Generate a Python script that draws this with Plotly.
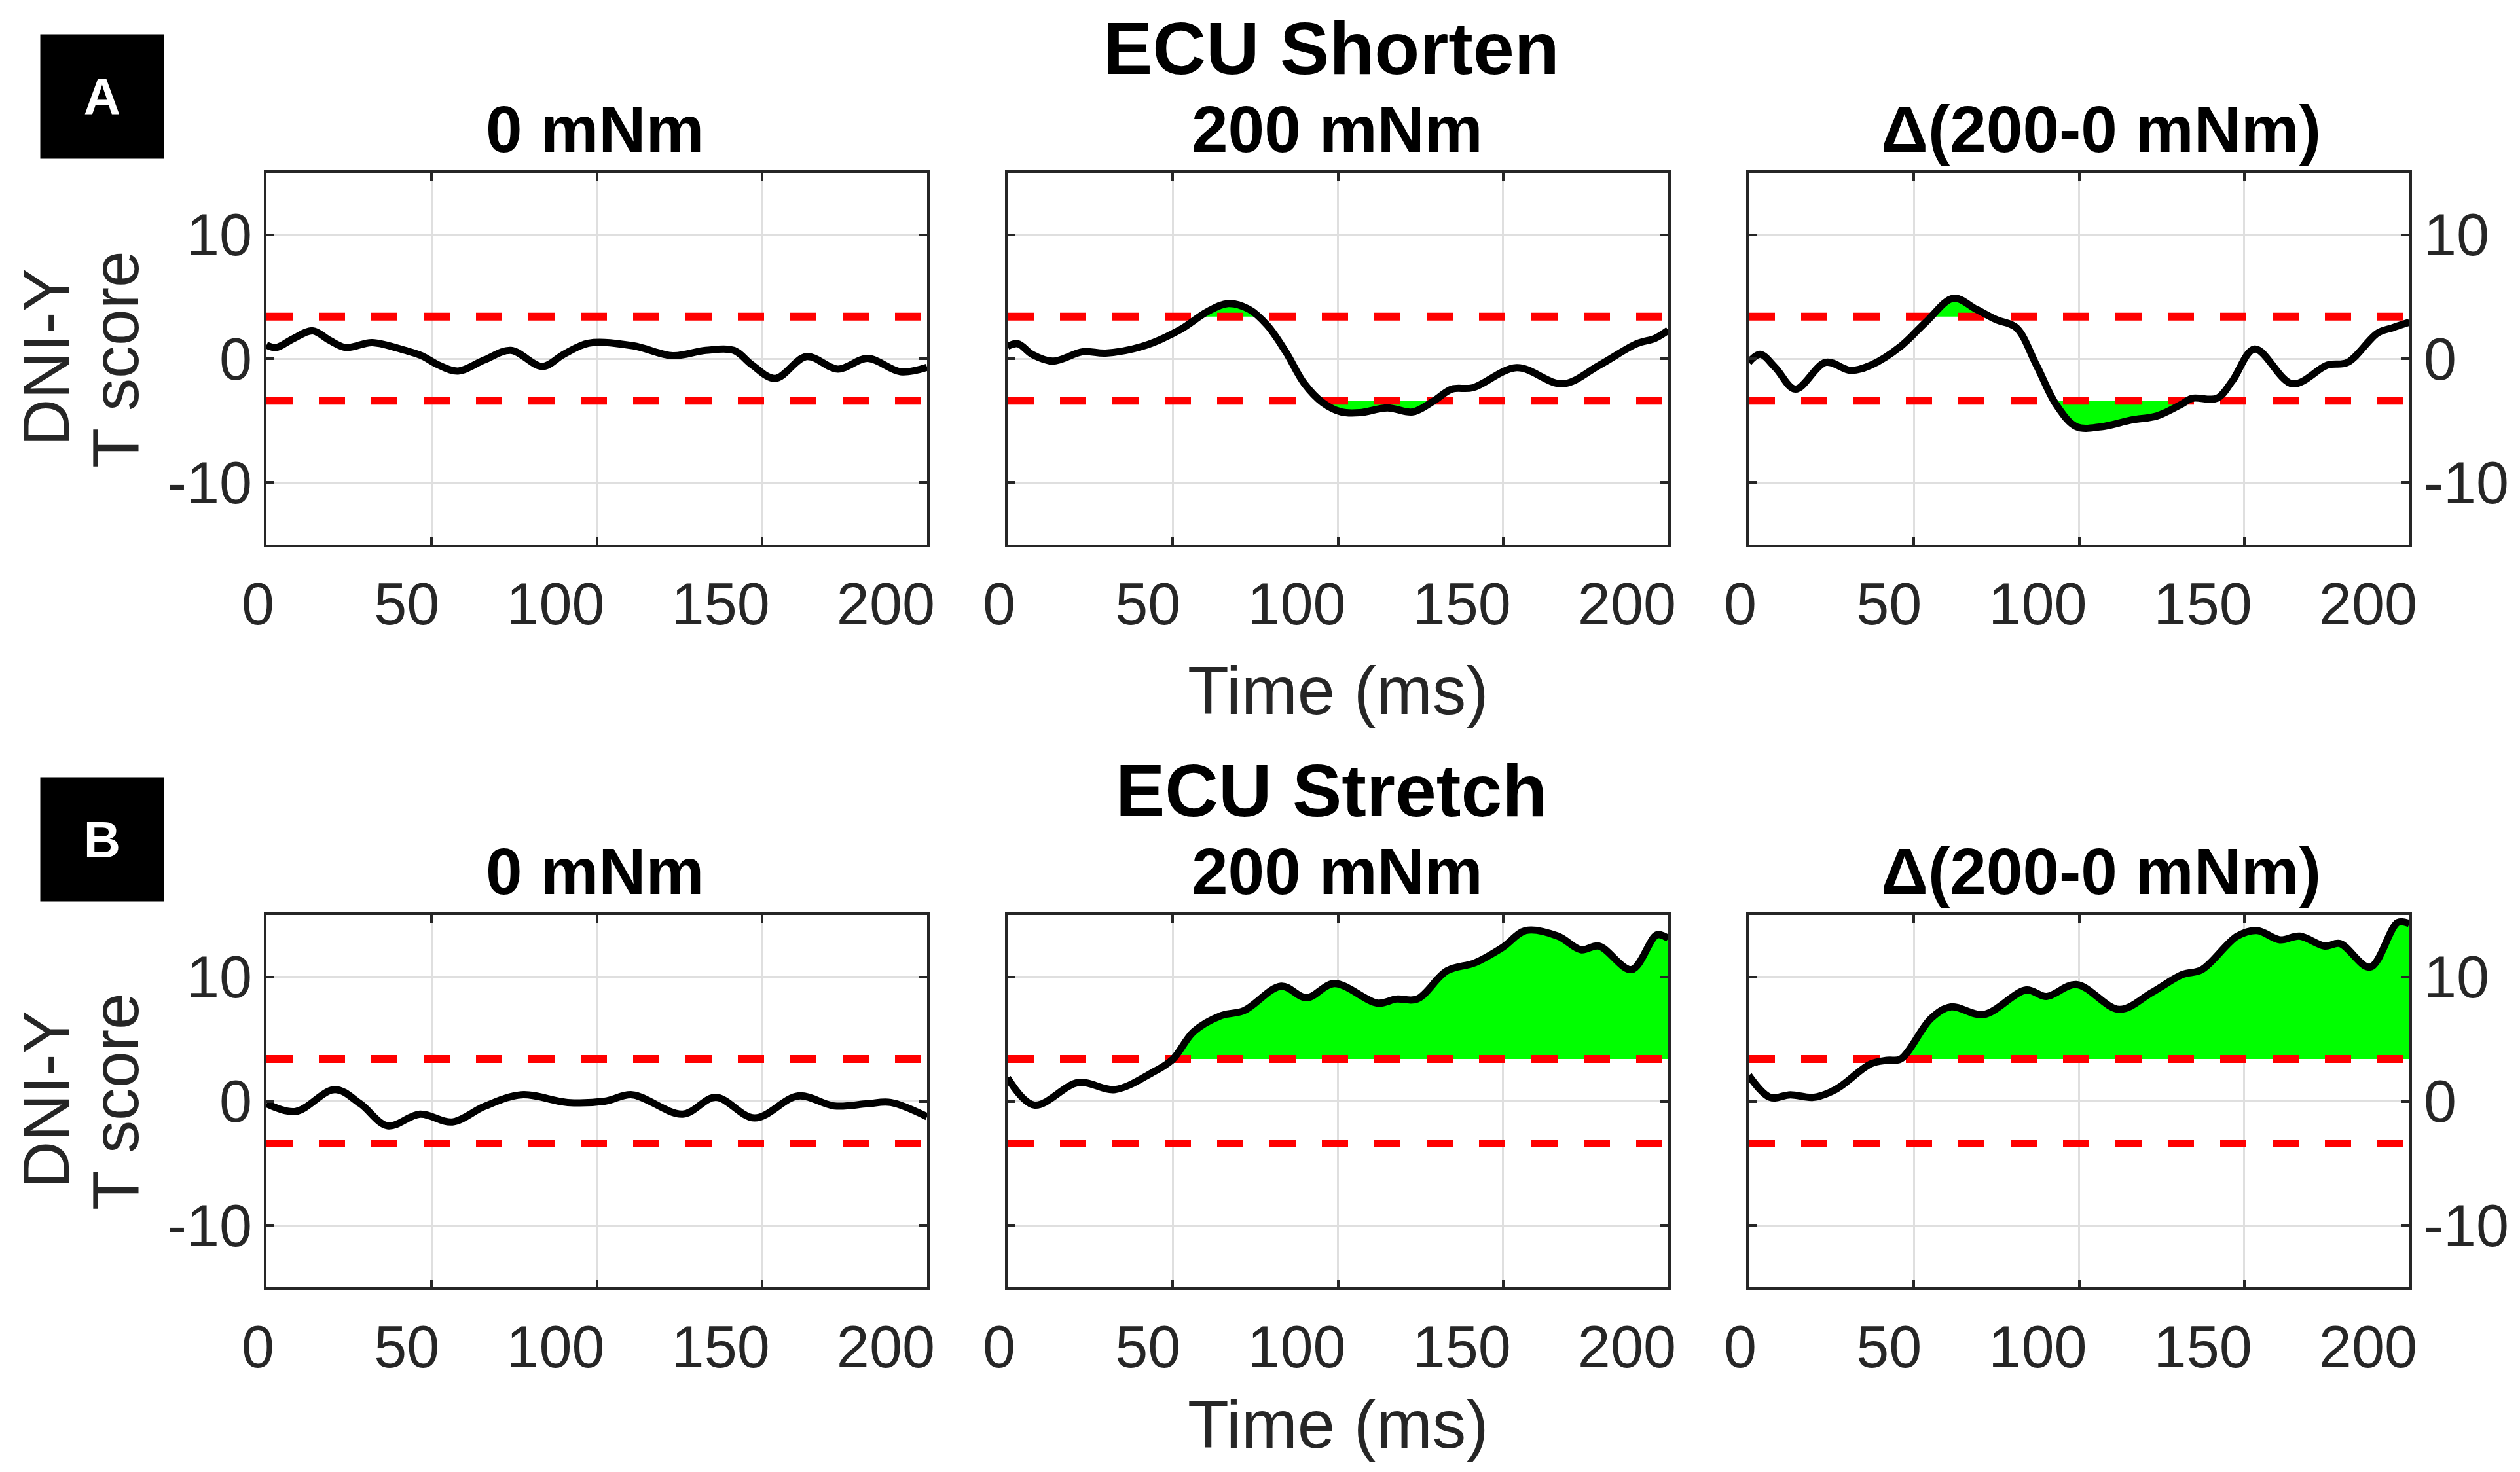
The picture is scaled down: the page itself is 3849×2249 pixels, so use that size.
import plotly.graph_objects as go
from plotly.subplots import make_subplots

# ---- data (time in ms, DNI-Y T score) ----
threshold = 3.4

t_short_0 = [0, 3, 8, 14, 19, 24, 32, 42, 47, 52, 58, 66, 74, 83.5, 90, 97.5, 111, 123,
             133, 141.5, 147, 154, 163.5, 173, 182, 192, 200]
v_short_0 = [1.1, 0.9, 1.6, 2.25, 1.5, 0.9, 1.3, 0.67, 0.24, -0.5, -1.0, -0.1, 0.67, -0.63,
             0.35, 1.25, 1.04, 0.24, 0.67, 0.67, -0.5, -1.6, 0.17, -0.84, 0.02, -1.06, -0.7]

t_short_200 = [0, 3.2, 7.4, 13.7, 22.8, 29.7, 40.9, 52, 60.5, 66.8, 73, 78.6, 84.2, 89.8,
               95.4, 101, 106.6, 115, 122.6, 128.9, 134.5, 140.8, 154.1, 168, 179.2, 190.4,
               196, 200]
v_short_200 = [1.0, 1.2, 0.35, -0.2, 0.56, 0.45, 1.0, 2.3, 3.8, 4.45, 4.0, 2.7, 0.56, -2.0,
               -3.55, -4.3, -4.36, -3.97, -4.3, -3.43, -2.46, -2.35, -0.73, -2.03, -0.52,
               1.2, 1.64, 2.3]

t_short_diff = [0, 3.5, 8.1, 14.1, 23.3, 30.9, 37, 46, 53.6, 62, 68.8, 74.9, 81, 87.1, 93.2,
                99.2, 106.8, 115.9, 123.6, 131.2, 134.2, 141.8, 146.4, 153.2, 164.6, 175.2,
                181.3, 190.4, 195, 200]
v_short_diff = [-0.3, 0.35, -0.73, -2.46, -0.3, -0.95, -0.52, 1.0, 2.94, 4.88, 4.0, 3.15,
                2.5, -0.52, -3.76, -5.49, -5.49, -4.95, -4.62, -3.65, -3.2, -3.2, -1.8, 0.78,
                -2.03, -0.52, -0.3, 2.07, 2.5, 2.94]

t_stretch_0 = [0, 8.8, 20.7, 28.4, 36.7, 46.5, 56.3, 66, 77.2, 91.2, 102.4, 110.7, 126, 136,
               147.8, 161, 172, 182, 189, 200]
v_stretch_0 = [-0.2, -0.83, 0.94, -0.2, -1.98, -1.04, -1.67, -0.42, 0.52, -0.1, 0.0, 0.52,
               -1.04, 0.31, -1.35, 0.42, -0.38, -0.2, -0.1, -1.25]

t_stretch_200 = [0, 8.1, 21.4, 32.5, 43.7, 50, 56.3, 64.7, 71.6, 82.8, 90.5, 98.9, 112,
                 117.7, 124, 133, 141.5, 149.9, 156.9, 166.6, 173.6, 179, 188.9, 196.6, 200]
v_stretch_200 = [1.88, -0.31, 1.5, 0.94, 2.29, 3.375, 5.6, 6.9, 7.3, 9.27, 8.33, 9.48, 7.9,
                 8.23, 8.23, 10.5, 11.15, 12.4, 13.75, 13.3, 12.2, 12.5, 10.6, 13.4, 13.1]

t_stretch_diff = [0, 6.5, 12.6, 19.5, 26.3, 36.9, 42, 46, 55.2, 61.2, 71.1, 84, 90.1, 99.2,
                  112.2, 122, 131.2, 137.2, 147.9, 153.9, 160.8, 166.8, 174.4, 179, 188.1,
                  196.5, 200]
v_stretch_diff = [2.08, 0.31, 0.52, 0.31, 0.94, 3.0, 3.3, 3.4, 6.67, 7.6, 6.98, 8.96, 8.44,
                  9.4, 7.4, 8.75, 10.2, 10.6, 13.3, 13.75, 13.0, 13.3, 12.5, 12.7, 10.8,
                  14.4, 14.3]

panel_titles = ["0 mNm", "200 mNm", "\u0394(200-0 mNm)"]
x_ticks = [0, 50, 100, 150, 200]
y_ticks = [-10, 0, 10]
y_ticktext = ["-10", "0", "10"]

FONT = "Liberation Sans, Arial, Helvetica, sans-serif"
AXIS = "#262626"

# page body has an 8px margin, keep the plot inside the window
OFF = 8
W = 3830
H = 2230
XS = -6  # small nudge left so the right-hand tick labels fit


def fx(px, shift=True):
    return (px - OFF + (XS if shift else 0)) / W


def fy(py):
    return 1 - (py - OFF) / H


def clip_curve(t, v, level, upper=True):
    # curve clipped at the threshold, crossing points added so the fill hugs the line
    xs, ys = [], []
    for i in range(len(t)):
        if i > 0:
            a, b = v[i - 1] - level, v[i] - level
            if a * b < 0:
                xs.append(t[i - 1] + (t[i] - t[i - 1]) * a / (a - b))
                ys.append(level)
        xs.append(t[i])
        ys.append(max(v[i], level) if upper else min(v[i], level))
    return xs, ys


fig = make_subplots(rows=2, cols=3)

panels = [
    (1, 1, t_short_0, v_short_0),
    (1, 2, t_short_200, v_short_200),
    (1, 3, t_short_diff, v_short_diff),
    (2, 1, t_stretch_0, v_stretch_0),
    (2, 2, t_stretch_200, v_stretch_200),
    (2, 3, t_stretch_diff, v_stretch_diff),
]

for row, col, t, v in panels:
    for level, upper in [(threshold, True), (-threshold, False)]:
        fig.add_trace(go.Scatter(x=[0, 200], y=[level, level], mode="lines",
                                 line=dict(width=0), hoverinfo="skip"), row=row, col=col)
        cx, cy = clip_curve(t, v, level, upper)
        fig.add_trace(go.Scatter(x=cx, y=cy, mode="lines", line=dict(width=0),
                                 fill="tonexty", fillcolor="#00ff00", hoverinfo="skip"),
                      row=row, col=col)
    for level in [threshold, -threshold]:
        fig.add_trace(go.Scatter(x=[0, 200], y=[level, level], mode="lines",
                                 line=dict(color="#ff0000", width=12, dash="40px,40px")),
                      row=row, col=col)
    fig.add_trace(go.Scatter(x=t, y=v, mode="lines",
                             line=dict(color="black", width=11, shape="spline", smoothing=1)),
                  row=row, col=col)

tick_font = dict(family=FONT, size=90, color=AXIS)
common = dict(showgrid=True, gridcolor="#dfdfdf", gridwidth=2.5, zeroline=False,
              showline=True, linecolor=AXIS, linewidth=4, mirror="ticks", ticks="inside",
              ticklen=12, tickwidth=4, tickcolor=AXIS, tickfont=tick_font, automargin=False)
fig.update_xaxes(range=[0, 200], tickvals=x_ticks, ticklabelposition="outside left",
                 ticklabelshift=16, ticklabelstandoff=10, **common)
fig.update_yaxes(range=[-15, 15], tickvals=y_ticks, ticktext=y_ticktext,
                 ticklabelstandoff=0, **common)

# panel positions (pixels in the reference)
col_px = [(413, 1422), (1545, 2554), (2677, 3686)]
row_px = [(264, 832), (1398, 1967)]
for r in range(2):
    for c in range(3):
        fig.update_xaxes(domain=[fx(col_px[c][0]), fx(col_px[c][1])], row=r + 1, col=c + 1)
        fig.update_yaxes(domain=[fy(row_px[r][1]), fy(row_px[r][0])], row=r + 1, col=c + 1)
    fig.update_yaxes(showticklabels=False, row=r + 1, col=2)
    fig.update_yaxes(side="right", row=r + 1, col=3)

annotations = []
title_x = [914, 2048, 3215]
for r, (big, top) in enumerate([("ECU Shorten", 264), ("ECU Stretch", 1398)]):
    annotations.append(dict(text="<b>%s</b>" % big, x=fx(2039), y=fy(top - 190),
                            font=dict(family=FONT, size=113, color="black")))
    for c in range(3):
        annotations.append(dict(text="<b>%s</b>" % panel_titles[c], x=fx(title_x[c]),
                                y=fy(top - 67), font=dict(family=FONT, size=100, color="black")))
    annotations.append(dict(text="Time (ms)", x=fx(2050), y=fy(min(top + 791, 2176)),
                            font=dict(family=FONT, size=103, color=AXIS)))
    annotations.append(dict(text="DNI-Y", x=fx(70, False), y=fy(top + 282),
                            textangle=-90, font=dict(family=FONT, size=100, color=AXIS)))
    annotations.append(dict(text="T score", x=fx(176, False), y=fy(top + 285),
                            textangle=-90, font=dict(family=FONT, size=100, color=AXIS)))
    annotations.append(dict(text="<b>%s</b>" % "AB"[r], x=fx(162), y=fy(top - 116),
                            width=188, height=189, bgcolor="black", borderpad=0,
                            font=dict(family=FONT, size=78, color="white")))

for a in annotations:
    a.update(xref="paper", yref="paper", xanchor="center", yanchor="middle", showarrow=False)

fig.update_layout(width=W, height=H, margin=dict(l=0, r=0, t=0, b=0),
                  plot_bgcolor="white", paper_bgcolor="white", showlegend=False,
                  annotations=annotations)

fig.write_html("out.html")
